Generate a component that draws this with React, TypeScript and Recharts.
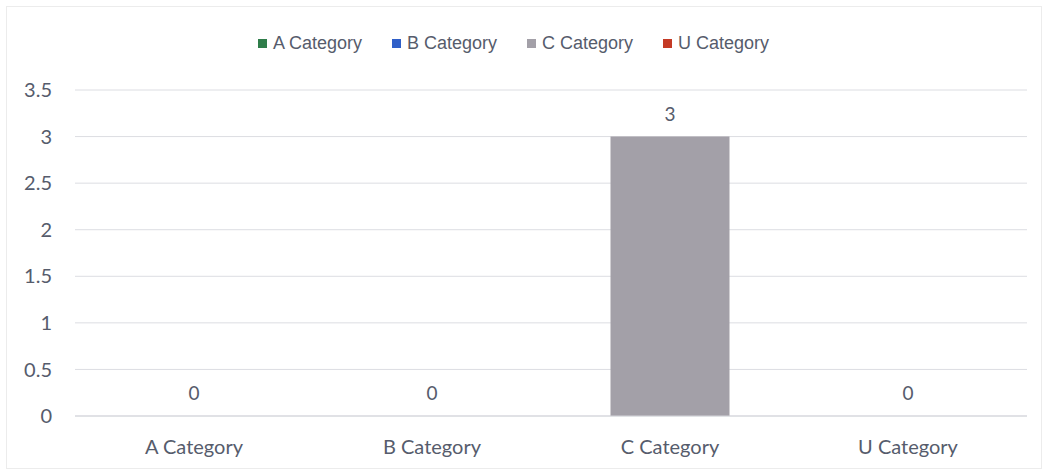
import { ComposedChart, Bar, Line, XAxis, YAxis, CartesianGrid, Legend, Cell, LabelList } from 'recharts';

const categories = ['A Category', 'B Category', 'C Category', 'U Category'];
const counts = [0, 0, 3, 0];
const yTicks = [0, 0.5, 1, 1.5, 2, 2.5, 3, 3.5];
const COLORS = ['#2f7d4a', '#2f5fc8', '#a3a0a8', '#c43a25'];

const data = categories.map((name, i) => ({ name, count: counts[i] }));

const TEXT = '#565c6c';

const LegendContent = () => (
  <div style={{ display: 'flex', justifyContent: 'center', gap: 30, fontFamily: '"Liberation Sans", Arial, sans-serif', fontSize: 18, color: TEXT, height: 22, alignItems: 'center' }}>
    {categories.map((c, i) => (
      <div key={c} style={{ display: 'flex', alignItems: 'center' }}>
        <span style={{ width: 9, height: 9, background: COLORS[i], marginRight: 6, display: 'inline-block' }} />
        {c}
      </div>
    ))}
  </div>
);

const App = () => {
  return (
    <div style={{ position: 'absolute', left: 0, top: 0, width: 1046, height: 473, background: '#fff' }}>
      <div style={{ position: 'absolute', left: 6, top: 6, width: 1034, height: 461, border: '1px solid #ececec' }} />
      <ComposedChart
        width={1046}
        height={473}
        data={data}
        margin={{ top: 68, right: 19, left: 0, bottom: 7 }}
        barCategoryGap="25%"
      >
        <CartesianGrid vertical={false} stroke="#dcdde2" />
        <Legend verticalAlign="top" content={<LegendContent />} wrapperStyle={{ top: 32 }} />
        <XAxis
          dataKey="name"
          height={50}
          tickLine={false}
          tickSize={0}
          tickMargin={24}
          axisLine={{ stroke: '#d4d5da' }}
          tick={{ fill: TEXT, fontSize: 20, fontFamily: 'Lato, sans-serif' }}
        />
        <YAxis
          width={75}
          domain={[0, 3.5]}
          ticks={yTicks}
          axisLine={false}
          tickLine={false}
          tickSize={0}
          tickMargin={23}
          tick={{ fill: TEXT, fontSize: 20, fontFamily: 'Lato, sans-serif' }}
        />
        <Bar dataKey="count" isAnimationActive={false}>
          {data.map((_, i) => (
            <Cell key={`cell-${i}`} fill={COLORS[i]} />
          ))}
        </Bar>
        <Line dataKey="count" stroke="none" dot={false} activeDot={false} isAnimationActive={false} legendType="none">
          <LabelList
            dataKey="count"
            position="top"
            offset={16}
            fill={TEXT}
            fontSize={19}
            fontFamily="Lato, sans-serif"
          />
        </Line>
      </ComposedChart>
    </div>
  );
};

export default App;
